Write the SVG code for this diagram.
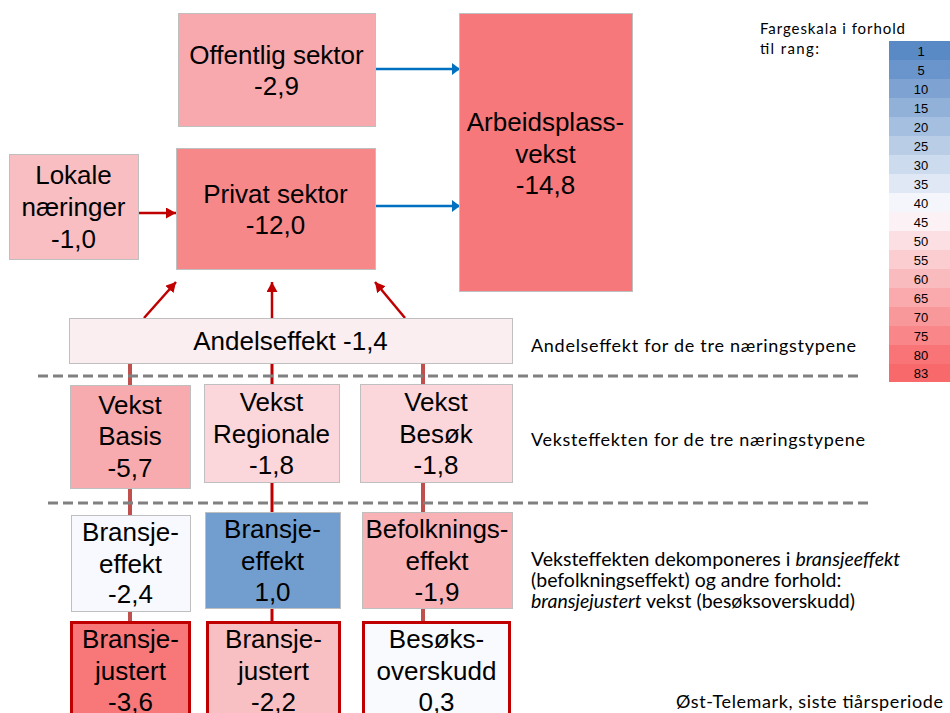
<svg xmlns="http://www.w3.org/2000/svg" width="950" height="713" viewBox="0 0 950 713">
<style>
.box{stroke:#BFBFBF;stroke-width:1}
.rbox{stroke:#C00000;stroke-width:3}
.t{font-family:"Liberation Sans",Arial,sans-serif;font-size:26px;fill:#000;text-anchor:middle}
.c{font-family:Lato,"Open Sans",sans-serif;font-size:18px;fill:#000}
.c2{font-family:Lato,"Open Sans",sans-serif;font-size:19.5px;fill:#000}
.lg{font-family:"Liberation Sans",Arial,sans-serif;font-size:13px;fill:#000;text-anchor:middle}
.dash{stroke:#808080;stroke-width:3;stroke-dasharray:10 5;fill:none}
.ra{stroke:#C00000;stroke-width:2.5;fill:none;marker-end:url(#rh)}
.ba{stroke:#0070C0;stroke-width:2.5;fill:none;marker-end:url(#bh)}
.vm{stroke:#C0504D;stroke-width:4;fill:none}
.vc{stroke:#C00000;stroke-width:3;fill:none}
</style>
<defs>
<marker id="rh" markerUnits="userSpaceOnUse" markerWidth="11" markerHeight="11" refX="10" refY="5.5" orient="auto"><path d="M0,0 L10,5.5 L0,11 z" fill="#C00000"/></marker>
<marker id="bh" markerUnits="userSpaceOnUse" markerWidth="9" markerHeight="12" refX="8" refY="6" orient="auto"><path d="M0,0 L8,6 L0,12 z" fill="#0070C0"/></marker>
</defs>
<rect width="950" height="713" fill="#fff"/>

<g id="connectors">
<line class="vm" x1="130" y1="363" x2="130" y2="621"/>
<line class="vc" x1="272" y1="363" x2="272" y2="621"/>
<line class="vm" x1="423" y1="363" x2="423" y2="621"/>
<line class="ra" x1="144" y1="318" x2="176" y2="282"/>
<line class="ra" x1="272" y1="318" x2="272" y2="282"/>
<line class="ra" x1="405" y1="318" x2="375" y2="282"/>
<line class="ra" x1="138" y1="213" x2="176" y2="213"/>
<line class="ba" x1="375" y1="69" x2="460" y2="69"/>
<line class="ba" x1="375" y1="206" x2="460" y2="206"/>
</g>

<g id="dividers">
<line class="dash" x1="38" y1="376" x2="861" y2="376"/>
<line class="dash" x1="48" y1="503" x2="871" y2="503"/>
</g>

<g id="offentlig"><rect class="box" x="178.5" y="13.5" width="197" height="113" fill="#F8A9AD"/>
<text class="t" x="276.5" y="64">Offentlig sektor</text><text class="t" x="276.5" y="95">-2,9</text></g>

<g id="privat"><rect class="box" x="176.5" y="148.5" width="199" height="121" fill="#F6888A"/>
<text class="t" x="275.5" y="203">Privat sektor</text><text class="t" x="275.5" y="234">-12,0</text></g>

<g id="lokale"><rect class="box" x="9.5" y="154.5" width="129" height="105" fill="#F9BEC2"/>
<text class="t" x="73.5" y="184">Lokale</text><text class="t" x="73.5" y="216">næringer</text><text class="t" x="73.5" y="248">-1,0</text></g>

<g id="arbeid"><rect class="box" x="459.5" y="13.5" width="173" height="278" fill="#F7787A"/>
<text class="t" x="545.5" y="131">Arbeidsplass-</text><text class="t" x="545.5" y="163">vekst</text><text class="t" x="545.5" y="194">-14,8</text></g>

<g id="andel"><rect class="box" x="69.5" y="318.5" width="443" height="45" fill="#FBEEF1"/>
<text class="t" x="290.5" y="350">Andelseffekt -1,4</text></g>

<g id="vekst-basis"><rect class="box" x="70.5" y="385.5" width="120" height="103" fill="#F8ABAF"/>
<text class="t" x="130" y="414">Vekst</text><text class="t" x="130" y="445">Basis</text><text class="t" x="130" y="477">-5,7</text></g>

<g id="vekst-regionale"><rect class="box" x="204.5" y="384.5" width="135" height="98" fill="#FBD6DA"/>
<text class="t" x="271.5" y="411">Vekst</text><text class="t" x="271.5" y="443">Regionale</text><text class="t" x="271.5" y="474">-1,8</text></g>

<g id="vekst-besok"><rect class="box" x="360.5" y="384.5" width="152" height="98" fill="#FBD6DA"/>
<text class="t" x="436" y="411">Vekst</text><text class="t" x="436" y="443">Besøk</text><text class="t" x="436" y="474">-1,8</text></g>

<g id="bransje-basis"><rect class="box" x="71.5" y="515.5" width="119" height="96" fill="#F8F9FE"/>
<text class="t" x="130.5" y="541">Bransje-</text><text class="t" x="130.5" y="573">effekt</text><text class="t" x="130.5" y="603">-2,4</text></g>

<g id="bransje-regionale"><rect class="box" x="205.5" y="512.5" width="135" height="96" fill="#719ECF"/>
<text class="t" x="272.5" y="538">Bransje-</text><text class="t" x="272.5" y="570">effekt</text><text class="t" x="272.5" y="601">1,0</text></g>

<g id="befolkning"><rect class="box" x="362.5" y="512.5" width="150" height="96" fill="#F8B2B6"/>
<text class="t" x="437" y="538">Befolknings-</text><text class="t" x="437" y="570">effekt</text><text class="t" x="437" y="601">-1,9</text></g>

<g id="justert-basis"><rect class="rbox" x="71.5" y="622.5" width="118" height="110" fill="#F8787A"/>
<text class="t" x="130.5" y="648">Bransje-</text><text class="t" x="130.5" y="680">justert</text><text class="t" x="130.5" y="711">-3,6</text></g>

<g id="justert-regionale"><rect class="rbox" x="207.5" y="622.5" width="132" height="110" fill="#F9C0C3"/>
<text class="t" x="273.5" y="648">Bransje-</text><text class="t" x="273.5" y="680">justert</text><text class="t" x="273.5" y="711">-2,2</text></g>

<g id="besoksoverskudd"><rect class="rbox" x="363.5" y="622.5" width="146" height="110" fill="#F9FAFE"/>
<text class="t" x="436.5" y="648">Besøks-</text><text class="t" x="436.5" y="680">overskudd</text><text class="t" x="436.5" y="711">0,3</text></g>

<g id="notes">
<text class="c" x="531" y="352" textLength="325">Andelseffekt for de tre næringstypene</text>
<text class="c" x="531" y="446" textLength="334">Veksteffekten for de tre næringstypene</text>
<text class="c2" x="531" y="566">Veksteffekten dekomponeres i <tspan font-style="italic">bransjeeffekt</tspan></text>
<text class="c2" x="531" y="587">(befolkningseffekt) og andre forhold:</text>
<text class="c2" x="531" y="608"><tspan font-style="italic">bransjejustert</tspan> vekst (besøksoverskudd)</text>
<text class="c" x="676" y="708" textLength="267">Øst-Telemark, siste tiårsperiode</text>
</g>

<g id="legend">
<text class="c" x="760" y="34" style="font-size:15px" textLength="145">Fargeskala i forhold</text>
<text class="c" x="760" y="54" style="font-size:15px" textLength="59">til rang:</text>
<rect x="889" y="41" width="61" height="19" fill="#5A8AC6"/>
<rect x="889" y="60" width="61" height="19" fill="#6A95CC"/>
<rect x="889" y="79" width="61" height="19" fill="#7EA3D3"/>
<rect x="889" y="98" width="61" height="19" fill="#91B1D9"/>
<rect x="889" y="117" width="61" height="19" fill="#A5BFE0"/>
<rect x="889" y="136" width="61" height="19" fill="#B9CDE7"/>
<rect x="889" y="155" width="61" height="19" fill="#CDDBEE"/>
<rect x="889" y="174" width="61" height="19" fill="#E0E8F5"/>
<rect x="889" y="193" width="61" height="19" fill="#F4F6FC"/>
<rect x="889" y="212" width="61" height="19" fill="#FCF1F4"/>
<rect x="889" y="231" width="61" height="19" fill="#FBDFE2"/>
<rect x="889" y="250" width="61" height="19" fill="#FBCDD0"/>
<rect x="889" y="269" width="61" height="19" fill="#FABBBE"/>
<rect x="889" y="288" width="61" height="19" fill="#FAAAAC"/>
<rect x="889" y="307" width="61" height="19" fill="#F9989A"/>
<rect x="889" y="326" width="61" height="19" fill="#F98688"/>
<rect x="889" y="345" width="61" height="19" fill="#F87476"/>
<rect x="889" y="364" width="61" height="18" fill="#F8696B"/>
<text class="lg" x="921" y="56">1</text>
<text class="lg" x="921" y="75">5</text>
<text class="lg" x="921" y="94">10</text>
<text class="lg" x="921" y="113">15</text>
<text class="lg" x="921" y="132">20</text>
<text class="lg" x="921" y="151">25</text>
<text class="lg" x="921" y="170">30</text>
<text class="lg" x="921" y="189">35</text>
<text class="lg" x="921" y="208">40</text>
<text class="lg" x="921" y="227">45</text>
<text class="lg" x="921" y="246">50</text>
<text class="lg" x="921" y="265">55</text>
<text class="lg" x="921" y="284">60</text>
<text class="lg" x="921" y="303">65</text>
<text class="lg" x="921" y="322">70</text>
<text class="lg" x="921" y="341">75</text>
<text class="lg" x="921" y="360">80</text>
<text class="lg" x="921" y="378">83</text>
</g>
</svg>
